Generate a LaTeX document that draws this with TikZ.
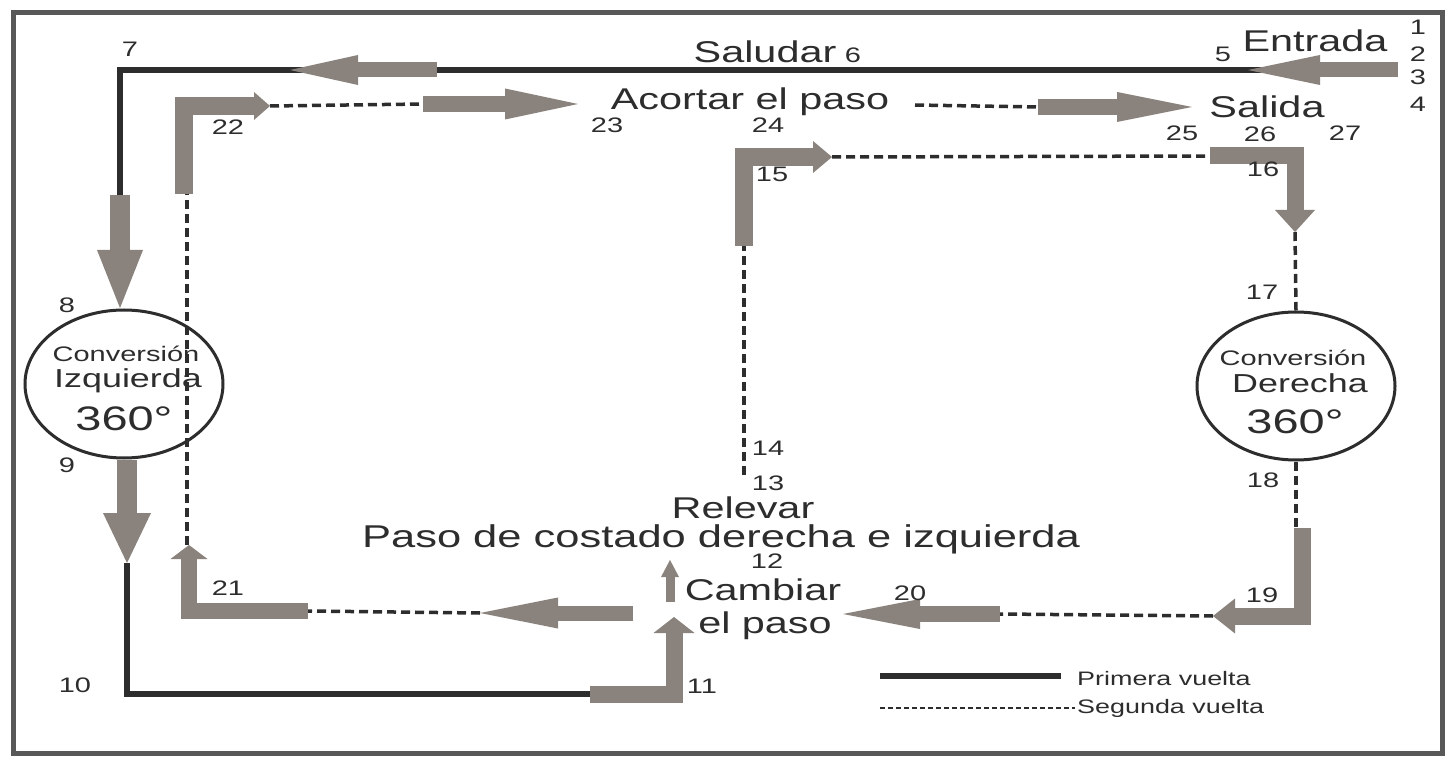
\documentclass[tikz,border=0pt]{standalone}
\usepackage{fontspec}
\setmainfont{Liberation Sans}[FakeStretch=1.38]
\usepackage{xcolor}
\usepackage{tikz}
\usetikzlibrary{arrows.meta}
\usetikzlibrary{shapes.geometric}
\definecolor{inkgray}{RGB}{45,45,45}
\definecolor{fatgray}{RGB}{138,131,125}
\definecolor{framegray}{RGB}{88,88,88}
\tikzset{
  firstlap/.style={line width=6pt, color=inkgray, line join=miter},
  secondlap/.style={line width=3.5pt, color=inkgray, dash pattern=on 9pt off 5pt},
  fat/.style={line width=#1, color=fatgray, line join=miter},
  fat/.default=16pt,
  fathead/.style 2 args={-{Triangle[length=#1, width=#2, line width=0pt]}},
  lbl/.style={anchor=base, inner sep=0pt, text=inkgray, font=\fontsize{30}{30}\selectfont},
  num/.style={anchor=base, inner sep=0pt, text=inkgray, font=\fontsize{21}{21}\selectfont},
  volte/.style={ellipse, draw=inkgray, line width=3pt, fill=white, minimum width=198pt, minimum height=148pt, inner sep=0pt},
}

\begin{document}
\begin{tikzpicture}[x=1pt, y=-1pt]
\useasboundingbox (0,0) rectangle (1454,759);
\fill[white] (0,0) rectangle (1454,759);
\draw[line width=5pt, framegray] (13,13) rectangle (1442,753);

\coordinate (e0) at (1398,70);
\coordinate (e1) at (1248,70);
\coordinate (s0) at (437,70);
\coordinate (s1) at (290,70);
\coordinate (c7) at (120,70);
\coordinate (d0) at (120,195);
\coordinate (d1) at (120,308);
\coordinate (d2) at (127,460);
\coordinate (d3) at (127,563);
\coordinate (c10) at (127,694);
\coordinate (c11a) at (590,694);
\coordinate (c11b) at (674,694);
\coordinate (c11c) at (674,617);
\coordinate (r0) at (670,602);
\coordinate (r1) at (670,560);
\coordinate (c13) at (744,475);
\coordinate (c15a) at (744,246);
\coordinate (c15b) at (744,157);
\coordinate (c15c) at (832,157);
\coordinate (c16a) at (1210,156);
\coordinate (c16b) at (1295,156);
\coordinate (c16c) at (1295,232);
\coordinate (c19a) at (1302,528);
\coordinate (c19b) at (1302,616);
\coordinate (c19c) at (1213,616);
\coordinate (w0) at (1000,614);
\coordinate (w1) at (843,614);
\coordinate (v0) at (633,613);
\coordinate (v1) at (480,613);
\coordinate (c21a) at (308,611);
\coordinate (c21b) at (189,611);
\coordinate (c21c) at (189,545);
\coordinate (c22a) at (184,194);
\coordinate (c22b) at (184,106);
\coordinate (c22c) at (270,106);
\coordinate (u0) at (423,104);
\coordinate (u1) at (578,104);
\coordinate (t0) at (1038,107);
\coordinate (t1) at (1192,107);

\node[volte] (izq) at (124,384) {};
\node[volte] (der) at (1296,386) {};

\draw[firstlap] (e0) -- (c7) -- (d0);
\draw[firstlap] (d3) -- (c10) -- (c11a);
\draw[secondlap] (c13) -- (c15a);
\draw[secondlap] (c15c) -- (c16a);
\draw[secondlap] (c16c) -- (der.north);
\draw[secondlap] (der.south) -- (c19a -| der.south);
\draw[secondlap] (c19c) -- (w0);
\draw[secondlap] (v1) -- (c21a);
\draw[secondlap] (c21c -| 187,0) -- (c22a -| 187,0);
\draw[secondlap] (c22c) -- (u0);
\draw[secondlap] (915,105) -- (t0);

\draw[fat=15pt, fathead={72pt}{30pt}] (e0) -- (e1);
\draw[fat=15pt, fathead={68pt}{30pt}] (s0) -- (s1);
\draw[fat=20pt, fathead={58pt}{46pt}] (d0) -- (d1);
\draw[fat=20pt, fathead={50pt}{48pt}] (d2) -- (d3);
\draw[fat=17pt, fathead={16pt}{41pt}] (c11a) -- (c11b) -- (c11c);
\draw[fat=9pt, fathead={17pt}{18pt}] (r0) -- (r1);
\draw[fat=18pt, fathead={19pt}{32pt}] (c15a) -- (c15b) -- (c15c);
\draw[fat=17pt, fathead={22pt}{40pt}] (c16a) -- (c16b) -- (c16c);
\draw[fat=17pt, fathead={22pt}{35pt}] (c19a) -- (c19b) -- (c19c);
\draw[fat=16pt, fathead={77pt}{30pt}] (w0) -- (w1);
\draw[fat=15pt, fathead={78pt}{31pt}] (v0) -- (v1);
\draw[fat=16pt, fathead={14pt}{37pt}] (c21a) -- (c21b) -- (c21c);
\draw[fat=18pt, fathead={16pt}{28pt}] (c22a) -- (c22b) -- (c22c);
\draw[fat=16pt, fathead={73pt}{31pt}] (u0) -- (u1);
\draw[fat=16pt, fathead={75pt}{30pt}] (t0) -- (t1);

\node[num, font=\fontsize{21}{21}\selectfont] (cI1) at (126,362) {Conversión};
\node[num, font=\fontsize{26}{26}\selectfont] (cI2) at (128,388) {Izquierda};
\node[num, font=\fontsize{34}{34}\selectfont] (cI3) at (124,430) {360°};
\node[num, font=\fontsize{21}{21}\selectfont] (cD1) at (1293,366) {Conversión};
\node[num, font=\fontsize{26}{26}\selectfont] (cD2) at (1300,392) {Derecha};
\node[num, font=\fontsize{34}{34}\selectfont] (cD3) at (1295,433) {360°};

\node[lbl] (tSaludar) at (765,63) {Saludar};
\node[num, anchor=base west] (n6) at ([xshift=8pt]tSaludar.base east) {6};
\node[lbl] (tEntrada) at (1315,52) {Entrada};
\node[lbl] (tAcortar) at (750,110) {Acortar el paso};
\node[lbl] (tSalida) at (1267,118) {Salida};
\node[lbl] (tRelevar) at (743,518) {Relevar};
\node[lbl, font=\fontsize{31.5}{31.5}\selectfont] (tCostado) at (721,547) {Paso de costado derecha e izquierda};
\node[lbl] (tCambiar) at (763,600) {Cambiar};
\node[lbl] (tElpaso) at (765,633) {el paso};

\node[num] (n1) at (1418,35) {1};
\node[num] (n2) at (1418,62) {2};
\node[num] (n3) at (1418,85) {3};
\node[num] (n4) at (1418,112) {4};
\node[num] (n5) at (1223,62) {5};
\node[num] (n7) at (130,57) {7};
\node[num] (n8) at (67,313) {8};
\node[num] (n9) at (67,472) {9};
\node[num] (n10) at (75,692) {10};
\node[num] (n11) at (702,693) {11};
\node[num] (n12) at (767,568) {12};
\node[num] (n13) at (768,490) {13};
\node[num] (n14) at (768,455) {14};
\node[num] (n15) at (772,182) {15};
\node[num] (n16) at (1263,177) {16};
\node[num] (n17) at (1262,300) {17};
\node[num] (n18) at (1263,487) {18};
\node[num] (n19) at (1262,602) {19};
\node[num] (n20) at (910,600) {20};
\node[num] (n21) at (228,595) {21};
\node[num] (n22) at (228,135) {22};
\node[num] (n23) at (607,133) {23};
\node[num] (n24) at (768,133) {24};
\node[num] (n25) at (1182,141) {25};
\node[num] (n26) at (1260,142) {26};
\node[num] (n27) at (1345,141) {27};

\node[num, anchor=base west, font=\fontsize{19.5}{19.5}\selectfont] (lgPrim) at (1077,685) {Primera vuelta};
\node[num, anchor=base west, font=\fontsize{19.5}{19.5}\selectfont] (lgSeg) at (1077,713) {Segunda vuelta};
\coordinate (lgA) at (880,676);
\coordinate (lgB) at (880,708);
\draw[firstlap] (lgA) -- ([xshift=-16pt]lgA -| lgPrim.west);
\draw[line width=2.5pt, inkgray, dash pattern=on 5pt off 3pt] (lgB) -- ([xshift=-2pt]lgB -| lgSeg.west);
\end{tikzpicture}
\end{document}
